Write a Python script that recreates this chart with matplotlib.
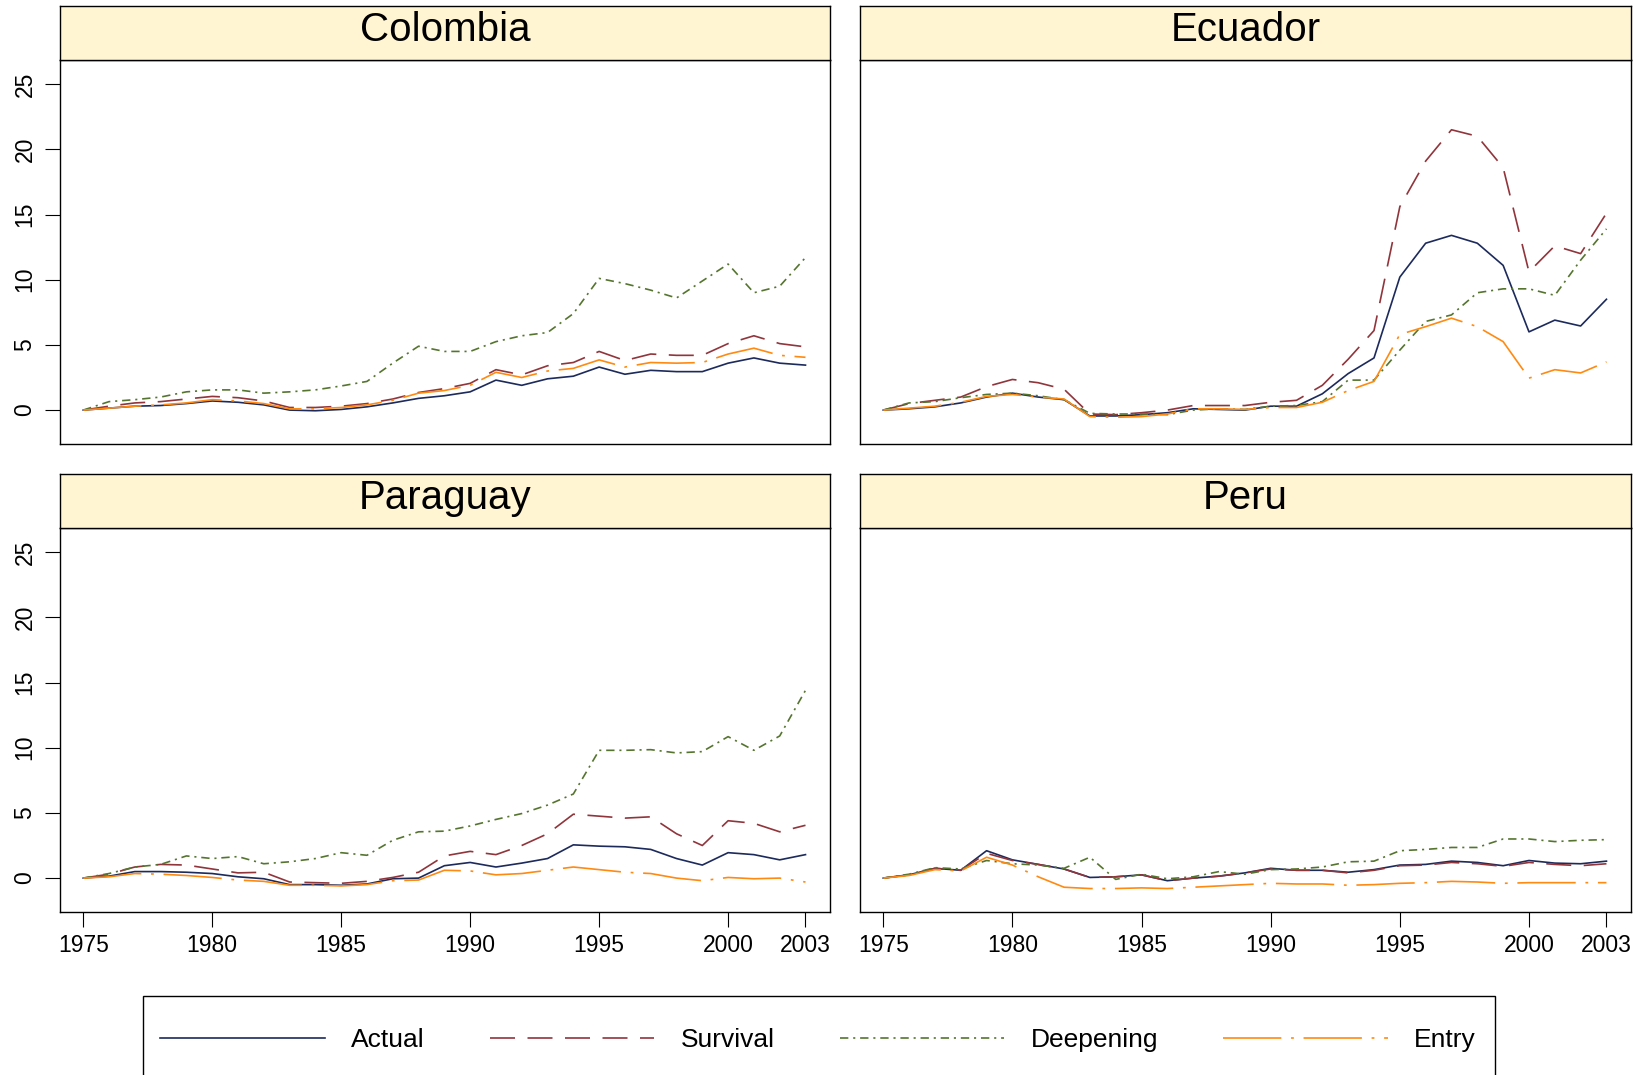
import numpy as np
import matplotlib
matplotlib.use('Agg')
from matplotlib import pyplot as plt
from matplotlib.patches import Rectangle

plt.rcParams['font.family'] = ['Liberation Sans', 'DejaVu Sans']
plt.rcParams['lines.scale_dashes'] = False

###########################################################

years = list(range(1975, 2004))
countries = ['Colombia', 'Ecuador', 'Paraguay', 'Peru']
series_names = ['Actual', 'Survival', 'Deepening', 'Entry']

colombia_actual = [0, 0.15, 0.3, 0.35, 0.5, 0.7, 0.6, 0.4, 0.0, -0.05, 0.05, 0.25, 0.55, 0.9, 1.1,
                   1.4, 2.3, 1.9, 2.4, 2.6, 3.3, 2.75, 3.05, 2.95, 2.95, 3.6, 4.0, 3.6, 3.45]
colombia_survival = [0, 0.3, 0.55, 0.65, 0.85, 1.05, 0.95, 0.7, 0.2, 0.2, 0.3, 0.5, 0.85, 1.35, 1.65,
                     2.05, 3.1, 2.7, 3.4, 3.65, 4.5, 3.8, 4.3, 4.2, 4.2, 5.1, 5.7, 5.1, 4.85]
colombia_deepening = [0, 0.65, 0.8, 1.0, 1.4, 1.55, 1.55, 1.3, 1.4, 1.55, 1.85, 2.2, 3.6, 4.9, 4.5,
                      4.5, 5.25, 5.7, 5.95, 7.4, 10.1, 9.7, 9.2, 8.6, 9.9, 11.2, 9.0, 9.5, 11.7]
colombia_entry = [0, 0.15, 0.3, 0.4, 0.55, 0.8, 0.7, 0.5, 0.1, 0.1, 0.2, 0.4, 0.75, 1.3, 1.5,
                  1.9, 2.9, 2.5, 3.0, 3.2, 3.85, 3.3, 3.65, 3.6, 3.65, 4.3, 4.75, 4.2, 4.05]

ecuador_actual = [0, 0.1, 0.25, 0.55, 1.0, 1.3, 1.0, 0.8, -0.45, -0.45, -0.35, -0.2, 0.1, 0.05, 0.0,
                  0.3, 0.3, 1.25, 2.8, 4.0, 10.2, 12.8, 13.4, 12.8, 11.1, 6.0, 6.9, 6.45, 8.5]
ecuador_survival = [0, 0.5, 0.75, 1.0, 1.8, 2.35, 2.1, 1.6, -0.3, -0.35, -0.2, 0.0, 0.35, 0.35, 0.35,
                    0.6, 0.75, 1.9, 3.9, 6.1, 15.6, 19.1, 21.5, 21.0, 18.6, 10.6, 12.6, 12.0, 15.1]
ecuador_deepening = [0, 0.55, 0.65, 0.95, 1.2, 1.3, 1.1, 0.8, -0.25, -0.3, -0.3, -0.35, 0.0, 0.1, 0.05,
                     0.3, 0.35, 0.65, 2.3, 2.3, 4.6, 6.8, 7.3, 9.0, 9.3, 9.3, 8.8, 11.5, 13.9]
ecuador_entry = [0, 0.15, 0.3, 0.6, 1.05, 1.2, 1.0, 0.85, -0.5, -0.55, -0.5, -0.3, 0.1, 0.1, 0.05,
                 0.2, 0.2, 0.6, 1.5, 2.2, 5.8, 6.4, 7.05, 6.4, 5.25, 2.45, 3.1, 2.85, 3.7]

paraguay_actual = [0, 0.15, 0.5, 0.5, 0.45, 0.35, 0.1, -0.05, -0.5, -0.5, -0.55, -0.45, -0.05, 0.0, 0.95,
                   1.2, 0.85, 1.15, 1.5, 2.55, 2.45, 2.4, 2.2, 1.5, 1.0, 1.95, 1.8, 1.4, 1.8]
paraguay_survival = [0, 0.3, 0.85, 1.05, 1.0, 0.7, 0.4, 0.45, -0.3, -0.35, -0.4, -0.25, 0.05, 0.45, 1.7,
                     2.05, 1.8, 2.5, 3.4, 4.9, 4.75, 4.6, 4.7, 3.4, 2.5, 4.4, 4.2, 3.55, 4.05]
paraguay_deepening = [0, 0.35, 0.85, 1.05, 1.7, 1.5, 1.65, 1.1, 1.25, 1.5, 1.95, 1.75, 2.9, 3.55, 3.6,
                      4.0, 4.5, 4.95, 5.6, 6.45, 9.8, 9.8, 9.85, 9.6, 9.7, 10.85, 9.8, 10.9, 14.4]
paraguay_entry = [0, 0.1, 0.35, 0.3, 0.2, 0.05, -0.15, -0.25, -0.55, -0.55, -0.6, -0.5, -0.2, -0.15, 0.6,
                  0.55, 0.25, 0.35, 0.6, 0.85, 0.65, 0.45, 0.35, 0.0, -0.2, 0.05, -0.05, 0.0, -0.3]

peru_actual = [0, 0.25, 0.75, 0.6, 2.1, 1.4, 1.05, 0.7, 0.05, 0.1, 0.25, -0.2, 0.0, 0.15, 0.4,
               0.75, 0.6, 0.6, 0.45, 0.65, 1.0, 1.05, 1.3, 1.2, 0.95, 1.35, 1.15, 1.1, 1.3]
peru_survival = [0, 0.25, 0.75, 0.6, 1.9, 1.35, 1.05, 0.7, 0.05, 0.1, 0.25, -0.2, 0.0, 0.15, 0.4,
                 0.7, 0.6, 0.6, 0.4, 0.6, 0.95, 1.0, 1.2, 1.1, 0.9, 1.2, 1.05, 0.95, 1.1]
peru_deepening = [0, 0.3, 0.8, 0.7, 1.35, 1.1, 1.0, 0.75, 1.6, -0.1, 0.3, -0.05, 0.1, 0.5, 0.3,
                  0.65, 0.7, 0.85, 1.25, 1.3, 2.1, 2.2, 2.35, 2.35, 3.0, 3.0, 2.8, 2.9, 2.95]
peru_entry = [0, 0.2, 0.65, 0.55, 1.6, 1.0, 0.1, -0.7, -0.8, -0.8, -0.75, -0.8, -0.7, -0.6, -0.5,
              -0.4, -0.45, -0.45, -0.55, -0.5, -0.4, -0.35, -0.25, -0.3, -0.4, -0.35, -0.35, -0.35, -0.35]

panels = {'Colombia': [colombia_actual, colombia_survival, colombia_deepening, colombia_entry],
          'Ecuador': [ecuador_actual, ecuador_survival, ecuador_deepening, ecuador_entry],
          'Paraguay': [paraguay_actual, paraguay_survival, paraguay_deepening, paraguay_entry],
          'Peru': [peru_actual, peru_survival, peru_deepening, peru_entry]}

yticks = [0, 5, 10, 15, 20, 25]
xticks = [1975, 1980, 1985, 1990, 1995, 2000, 2003]

styles = {'Actual': dict(color='#1c2a5c', linestyle='-'),
          'Survival': dict(color='#90353b', linestyle=(0, (18, 9))),
          'Deepening': dict(color='#55752f', linestyle=(0, (6, 3.5, 1.5, 3.5))),
          'Entry': dict(color='#ff8a12', linestyle=(0, (42, 7, 2, 7)))}

###########################################################

W, H = 1644, 1075
my_dpi = 100
fig = plt.figure(figsize=(W/my_dpi, H/my_dpi), dpi=my_dpi)

# pixel layout: [left, right] x [strip top, plot top(strip bottom), plot bottom]
cols = [(60, 830), (860, 1631)]
rows = [(6, 60, 444), (474, 528, 912)]

handles = []
for i, country in enumerate(countries):
    r, c = divmod(i, 2)
    x0, x1 = cols[c]
    st, pt, pb = rows[r]
    ax = fig.add_axes([x0/W, 1-pb/H, (x1-x0)/W, (pb-pt)/H])
    sx = fig.add_axes([x0/W, 1-pt/H, (x1-x0)/W, (pt-st)/H])

    sx.set_facecolor('#fff5d2')
    sx.set_xticks([])
    sx.set_yticks([])
    for sp in sx.spines.values():
        sp.set_linewidth(1.0)
    sx.text(0.5, 0.55, country, ha='center', va='center', fontsize=29, transform=sx.transAxes)

    for name, vals in zip(series_names, panels[country]):
        ln, = ax.plot(years, vals, linewidth=1.2, label=name, **styles[name])
        if i == 0:
            handles.append(ln)

    ax.set_xlim(1974.1, 2003.95)
    ax.set_ylim(-2.6, 26.85)
    for sp in ax.spines.values():
        sp.set_linewidth(1.0)

    if c == 0:
        ax.set_yticks(yticks)
        ax.set_yticklabels([str(v) for v in yticks], rotation=90, va='center')
        ax.tick_params(axis='y', length=11, width=0.8, pad=6, labelsize=16.5)
    else:
        ax.set_yticks([])
    if r == 1:
        ax.set_xticks(xticks)
        ax.tick_params(axis='x', length=11, width=0.8, pad=5, labelsize=16.5)
    else:
        ax.set_xticks([])

fig.patches.append(Rectangle((143/W, -0.05), (1495-143)/W, 0.05 + 1 - 996/H,
                             transform=fig.transFigure, facecolor='none',
                             edgecolor='black', linewidth=1.0))
fig.legend(handles=handles, loc='center', bbox_to_anchor=(818/W, 1-1040/H), ncol=4,
           frameon=False, fontsize=19, handlelength=6.25, handletextpad=1.0,
           columnspacing=2.45)

plt.savefig('out.png', dpi=my_dpi)
